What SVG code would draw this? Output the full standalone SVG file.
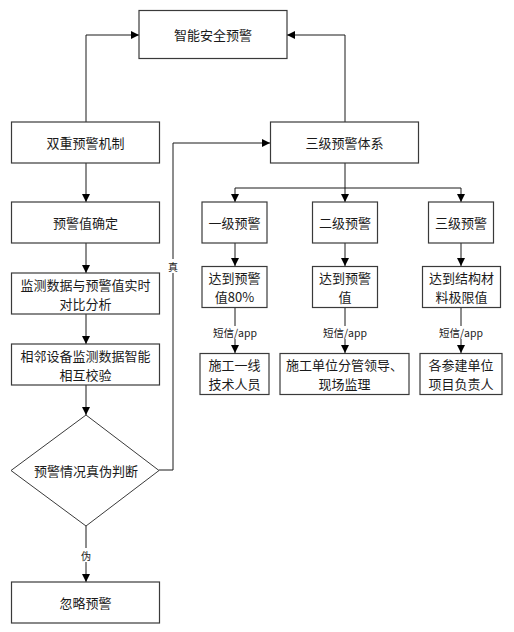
<svg xmlns="http://www.w3.org/2000/svg" width="514" height="632" viewBox="0 0 514 632">
<style>
.box{fill:#fff;stroke:#3a3a3a;stroke-width:1.2}
.t{font-family:"Noto Sans CJK SC","Liberation Sans",sans-serif;font-size:13px;fill:#1a1a1a;text-anchor:middle;dominant-baseline:central}
.s{font-family:"Noto Sans CJK SC","Liberation Sans",sans-serif;font-size:10.5px;fill:#1a1a1a;text-anchor:middle;dominant-baseline:central}
.ln{fill:none;stroke:#1a1a1a;stroke-width:1}
</style>
<defs>
<marker id="ah" viewBox="0 0 10 10" refX="10" refY="5" markerWidth="8" markerHeight="8" markerUnits="userSpaceOnUse" orient="auto">
<path d="M0,0 L10,5 L0,10 Z" fill="#000"/>
</marker>
</defs>
<rect width="514" height="632" fill="#fff"/>
<g id="connectors">
<path class="ln" d="M86,122 V35 H139" marker-end="url(#ah)"/>
<path class="ln" d="M345,122 V35 H287" marker-end="url(#ah)"/>
<path class="ln" d="M86,163 V202" marker-end="url(#ah)"/>
<path class="ln" d="M86,243 V273" marker-end="url(#ah)"/>
<path class="ln" d="M86,314 V344" marker-end="url(#ah)"/>
<path class="ln" d="M86,385 V415" marker-end="url(#ah)"/>
<path class="ln" d="M86,526 V582" marker-end="url(#ah)"/>
<path class="ln" d="M159,470 H173 V143 H270" marker-end="url(#ah)"/>
<path class="ln" d="M345,163 V202" marker-end="url(#ah)"/>
<path class="ln" d="M345,188 H235 V202" marker-end="url(#ah)"/>
<path class="ln" d="M345,188 H461 V202" marker-end="url(#ah)"/>
<path class="ln" d="M235,243 V266" marker-end="url(#ah)"/>
<path class="ln" d="M345,243 V266" marker-end="url(#ah)"/>
<path class="ln" d="M461,243 V266" marker-end="url(#ah)"/>
<path class="ln" d="M235,308 V353" marker-end="url(#ah)"/>
<path class="ln" d="M345,308 V353" marker-end="url(#ah)"/>
<path class="ln" d="M461,308 V353" marker-end="url(#ah)"/>
<rect x="166" y="259" width="14" height="14" fill="#fff"/>
<text class="s" x="173" y="266" style="font-size:10px">真</text>
<rect x="79" y="548" width="14" height="14" fill="#fff"/>
<text class="s" x="86" y="555" style="font-size:10px">伪</text>
<rect x="213" y="326" width="44" height="13" fill="#fff"/>
<text class="s" x="235" y="332">短信/app</text>
<rect x="323" y="326" width="44" height="13" fill="#fff"/>
<text class="s" x="345" y="332">短信/app</text>
<rect x="439" y="326" width="44" height="13" fill="#fff"/>
<text class="s" x="461" y="332">短信/app</text>
</g>
<g id="n-top"><rect class="box" x="139" y="10.5" width="148" height="48"/><text class="t" x="213" y="34.5">智能安全预警</text></g>
<g id="n-dual"><rect class="box" x="11.5" y="122" width="148" height="41"/><text class="t" x="85.5" y="142.5">双重预警机制</text></g>
<g id="n-three"><rect class="box" x="270.5" y="122" width="148" height="41"/><text class="t" x="344.5" y="142.5">三级预警体系</text></g>
<g id="n-value"><rect class="box" x="11.5" y="202" width="148" height="41"/><text class="t" x="85.5" y="222.5">预警值确定</text></g>
<g id="n-compare"><rect class="box" x="11.5" y="273" width="148" height="41"/><text class="t" x="85.5" y="284">监测数据与预警值实时</text><text class="t" x="85.5" y="303">对比分析</text></g>
<g id="n-check"><rect class="box" x="11.5" y="344" width="148" height="41"/><text class="t" x="85.5" y="355">相邻设备监测数据智能</text><text class="t" x="85.5" y="374">相互校验</text></g>
<g id="n-judge"><path d="M86,415 L159,470.5 L86,526 L11,470.5 Z" fill="#fff" stroke="#3a3a3a" stroke-width="1"/><text class="t" x="86" y="470.5">预警情况真伪判断</text></g>
<g id="n-ignore"><rect class="box" x="11.5" y="582" width="148" height="41"/><text class="t" x="85.5" y="602.5">忽略预警</text></g>
<g id="n-l1"><rect class="box" x="202" y="202" width="65" height="41"/><text class="t" x="234.5" y="222.5">一级预警</text></g>
<g id="n-l2"><rect class="box" x="312.5" y="202" width="65" height="41"/><text class="t" x="345" y="222.5">二级预警</text></g>
<g id="n-l3"><rect class="box" x="428.5" y="202" width="65" height="41"/><text class="t" x="461" y="222.5">三级预警</text></g>
<g id="n-c1"><rect class="box" x="202" y="266.5" width="65" height="41"/><text class="t" x="234.5" y="277.5">达到预警</text><text class="t" x="234.5" y="296.5">值80%</text></g>
<g id="n-c2"><rect class="box" x="312.5" y="266.5" width="65" height="41"/><text class="t" x="345" y="277.5">达到预警</text><text class="t" x="345" y="296.5">值</text></g>
<g id="n-c3"><rect class="box" x="422.5" y="266.5" width="78" height="41"/><text class="t" x="461.5" y="277.5">达到结构材</text><text class="t" x="461.5" y="296.5">料极限值</text></g>
<g id="n-p1"><rect class="box" x="200" y="353.5" width="69" height="41"/><text class="t" x="234.5" y="364.5">施工一线</text><text class="t" x="234.5" y="383.5">技术人员</text></g>
<g id="n-p2"><rect class="box" x="280" y="353.5" width="129" height="41"/><text class="t" x="344.5" y="364.5">施工单位分管领导、</text><text class="t" x="344.5" y="383.5">现场监理</text></g>
<g id="n-p3"><rect class="box" x="420" y="353.5" width="82" height="41"/><text class="t" x="461" y="364.5">各参建单位</text><text class="t" x="461" y="383.5">项目负责人</text></g>
</svg>
